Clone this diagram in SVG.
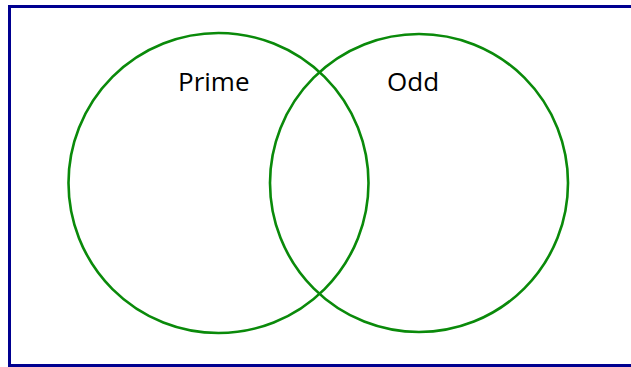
<svg xmlns="http://www.w3.org/2000/svg" width="631" height="367" viewBox="0 0 631 367">
<style>
.frame{fill:#fff;stroke:#000090;stroke-width:3}
.set{fill:none;stroke:#0a8a0a;stroke-width:2.6}
.lbl{font-family:"Open Sans","Liberation Sans",sans-serif;font-size:26px;fill:#000}
</style>
<rect width="631" height="367" fill="#fff"/>
<g id="universe"><rect class="frame" x="9.5" y="6.5" width="640" height="359"/></g>
<g id="prime"><circle class="set" cx="218.5" cy="183" r="150"/><text class="lbl" x="178" y="91">Prime</text></g>
<g id="odd"><circle class="set" cx="419" cy="183" r="149"/><text class="lbl" x="387" y="91">Odd</text></g>
<g id="connectors"/>
</svg>
